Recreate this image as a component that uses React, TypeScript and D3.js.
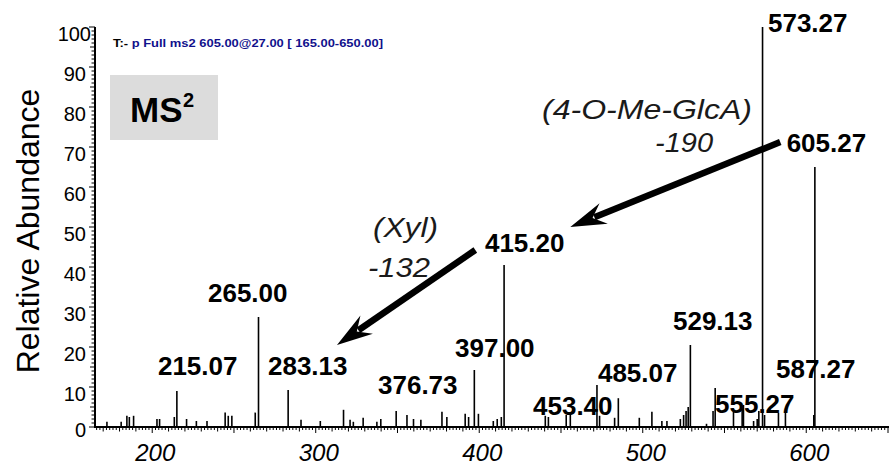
import React from "react";
import * as d3 from "d3";

// ---- data ----
const peakMz: number[] = [
  172.3, 181, 184.5, 186, 188.6, 202.9, 204.5, 213.5, 215.07, 221, 227, 233.5,
  244.6, 246.5, 248.7, 263, 265.0, 283.13, 291, 302.8, 317, 321, 323, 329,
  337.4, 339.8, 349.2, 355.8, 359.8, 364.3, 377.2, 380.2, 391.4, 393.5, 397.0,
  399.5, 408.6, 411, 413.5, 415.2, 440.4, 442.3, 453.2, 455.7, 472, 473.6,
  482.8, 485.07, 497.9, 505.6, 511.7, 514.8, 523, 525, 526.5, 527.8, 529.13,
  539, 543, 544.3, 555.5, 560.8, 561.6, 567.8, 570, 571, 573.27, 574.5, 583,
  587.27, 604.6, 605.27,
];
const peakIntensity: number[] = [
  1.3, 1.3, 2.8, 2.5, 2.8, 2, 2, 2.5, 9, 2, 1.5, 1.5,
  3.6, 2.8, 2.8, 3.6, 27.5, 9.25, 1.8, 1.5, 4.3, 1.8, 1.3, 2.3,
  1.3, 2, 4, 3, 2, 1.8, 3.8, 2.5, 3.3, 2.5, 14.25,
  3.3, 1.5, 2, 2.5, 40.5, 2.8, 2.5, 3, 3, 10.5, 2.8,
  2.3, 7.2, 2.3, 3.8, 1.5, 1.5, 2, 3, 4, 5, 20.5,
  0.8, 4, 9.75, 3.8, 4.7, 5.5, 1.5, 2, 4, 100, 3, 3.5,
  3.8, 3, 65,
];

const labelText: string[] = [
  "573.27", "605.27", "415.20", "265.00", "215.07", "283.13", "397.00",
  "529.13", "485.07", "376.73", "453.40", "555.27", "587.27",
];
const labelMz: number[] = [576.6, 588.0, 403.5, 234.1, 203.5, 270.8, 385.2, 518.5, 472.6, 338.1, 432.9, 544.2, 581.5];
const labelInt: number[] = [98.75, 68.75, 43.75, 31.25, 13, 13, 17.5, 24.25, 11.25, 8.25, 3, 3.5, 12.25];

const noteText: string[] = ["(4-O-Me-GlcA)", "-190", "(Xyl)", "-132"];
const noteMz: number[] = [438.4, 507.5, 335, 332];
const noteInt: number[] = [77, 68.75, 47.5, 37.5];
const noteWidth: number[] = [210, 58, 65, 62];

// arrows: from (mz, intensity) to (mz, intensity)
const arrowFromMz: number[] = [584.1, 397.6];
const arrowFromInt: number[] = [71.25, 44.25];
const arrowToMz: number[] = [455.7, 313];
const arrowToInt: number[] = [50, 20.5];

const yTickValues: number[] = [0, 10, 20, 30, 40, 50, 60, 70, 80, 90, 100];
const xTickValues: number[] = [200, 300, 400, 500, 600];

const titleBlack = "T:-";
const titleBlue = " p Full ms2 605.00@27.00 [ 165.00-650.00]";
const yAxisTitle = "Relative Abundance";

const FONT = "'Liberation Sans', Arial, Helvetica, sans-serif";

export default function App() {
  const W = 889;
  const H = 465;
  const x = d3.scaleLinear().domain([165, 650]).range([95, 888]);
  const y = d3.scaleLinear().domain([0, 100]).range([427, 27]);

  const yMinor = d3.range(0, 101, 1);
  const xMinor = d3.range(166, 651, 2);

  const arrows = arrowFromMz.map((_, i) => {
    const x1 = x(arrowFromMz[i]);
    const y1 = y(arrowFromInt[i]);
    const x2 = x(arrowToMz[i]);
    const y2 = y(arrowToInt[i]);
    const dx = x2 - x1;
    const dy = y2 - y1;
    const len = Math.hypot(dx, dy);
    const ux = dx / len;
    const uy = dy / len;
    const nx = -uy;
    const ny = ux;
    const L = 36;
    const Wd = 11;
    const notch = 24;
    const p = (a: number, b: number) => `${x2 - ux * a + nx * b},${y2 - uy * a + ny * b}`;
    const head = `M${x2},${y2} L${p(L, Wd)} L${p(notch, 0)} L${p(L, -Wd)} Z`;
    return { x1, y1, xe: x2 - ux * (notch + 2), ye: y2 - uy * (notch + 2), head };
  });

  return (
    <div style={{ position: "fixed", left: 0, top: 0 }}>
      <svg width={W} height={H} style={{ display: "block", background: "#fff" }} fontFamily={FONT}>
        <rect x={0} y={0} width={W} height={H} fill="#fff" />

        {/* title */}
        <text x={113} y={47} fontSize={11.5} fontWeight="bold" textLength={270} lengthAdjust="spacingAndGlyphs">
          <tspan fill="#000">{titleBlack}</tspan>
          <tspan fill="#10108c">{titleBlue}</tspan>
        </text>

        {/* MS2 box */}
        <rect x={110} y={75} width={108} height={65} fill="#dcdcdc" />
        <text x={130} y={122} fontSize={35} fontWeight="bold" fill="#000">
          MS
        </text>
        <text x={183} y={107} fontSize={20} fontWeight="bold" fill="#000">
          2
        </text>

        {/* y axis title */}
        <text
          transform={`translate(39,${231}) rotate(-90)`}
          textAnchor="middle"
          fontSize={32}
          fill="#000"
        >
          {yAxisTitle}
        </text>

        {/* peaks */}
        {peakMz.map((m, i) => (
          <line
            key={`p${i}`}
            x1={x(m)}
            x2={x(m)}
            y1={y(0)}
            y2={y(peakIntensity[i])}
            stroke="#000"
            strokeWidth={1.6}
          />
        ))}

        {/* y axis */}
        <line x1={95} x2={95} y1={y(100)} y2={y(0) + 1} stroke="#000" strokeWidth={2} />
        {yMinor.map((v) => (
          <line
            key={`yt${v}`}
            x1={95}
            x2={95 - (v % 10 === 0 ? 6 : v % 5 === 0 ? 5 : 3.5)}
            y1={y(v)}
            y2={y(v)}
            stroke="#000"
            strokeWidth={1}
          />
        ))}
        {yTickValues.map((v) => (
          <text
            key={`yl${v}`}
            x={v === 100 ? 91 : 86}
            y={Math.min(y(v) + 14, 437)}
            textAnchor="end"
            fontSize={20}
            fill="#000"
          >
            {v}
          </text>
        ))}

        {/* x axis */}
        <line x1={95} x2={889} y1={y(0)} y2={y(0)} stroke="#000" strokeWidth={2} />
        {xMinor.map((v) => (
          <line
            key={`xt${v}`}
            x1={x(v)}
            x2={x(v)}
            y1={y(0)}
            y2={y(0) + (v % 50 === 0 ? 6 : v % 10 === 0 ? 4.5 : 3)}
            stroke="#000"
            strokeWidth={1}
          />
        ))}
        {xTickValues.map((v) => (
          <text
            key={`xl${v}`}
            x={x(v) + 3}
            y={461}
            textAnchor="middle"
            fontSize={24}
            fontStyle="italic"
            fill="#000"
          >
            {v}
          </text>
        ))}

        {/* peak labels */}
        {labelText.map((t, i) => (
          <text
            key={`l${i}`}
            x={x(labelMz[i])}
            y={y(labelInt[i])}
            fontSize={26}
            fontWeight="bold"
            fill="#000"
          >
            {t}
          </text>
        ))}

        {/* annotations */}
        {noteText.map((t, i) => (
          <text
            key={`n${i}`}
            x={x(noteMz[i])}
            y={y(noteInt[i])}
            fontSize={28}
            fontStyle="italic"
            fill="#1a1a1a"
            textLength={noteWidth[i]}
            lengthAdjust="spacingAndGlyphs"
          >
            {t}
          </text>
        ))}

        {/* arrows */}
        {arrows.map((a, i) => (
          <g key={`a${i}`}>
            <line x1={a.x1} y1={a.y1} x2={a.xe} y2={a.ye} stroke="#000" strokeWidth={6.5} />
            <path d={a.head} fill="#000" />
          </g>
        ))}
      </svg>
    </div>
  );
}
